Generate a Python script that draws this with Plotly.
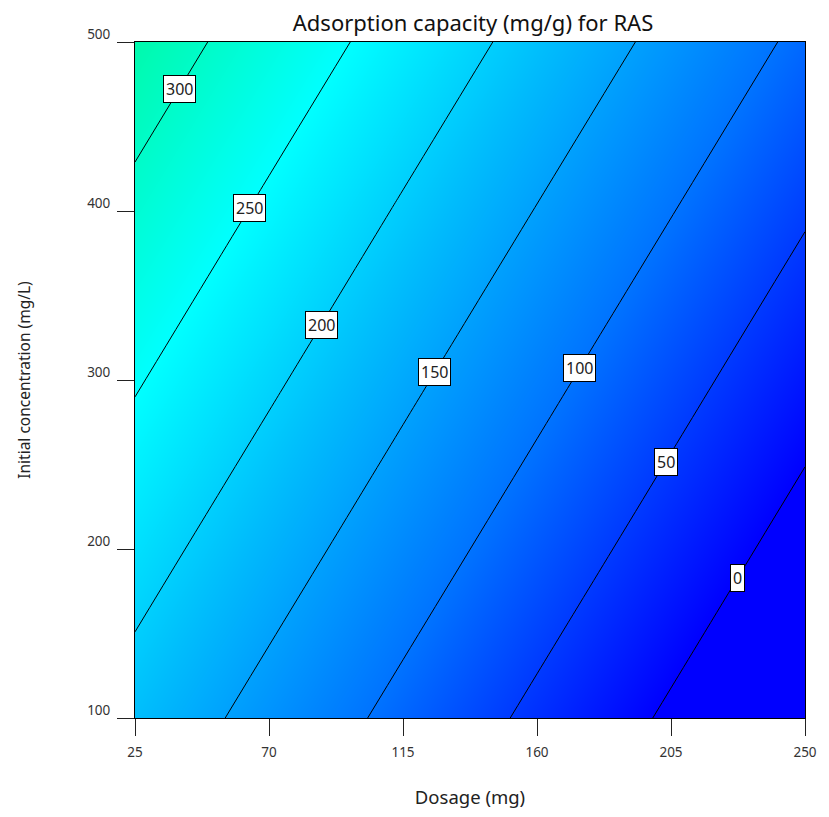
import numpy as np
import plotly.graph_objects as go

# Axes grid (tick positions)
dosage = [25, 70, 115, 160, 205, 250]          # mg
conc = [100, 200, 300, 400, 500]               # mg/L

# Adsorption capacity (mg/g) at grid nodes (rows = conc)
capacity = [
    [181.7, 134.6, 87.6, 40.6, -6.4, -53.5],
    [217.6, 170.6, 123.6, 76.6, 29.6, -17.5],
    [253.6, 206.6, 159.5, 112.5, 65.5, 18.5],
    [289.6, 242.5, 195.5, 148.5, 101.5, 54.4],
    [325.5, 278.5, 231.5, 184.5, 137.5, 90.4],
]

x_ticks = [25, 70, 115, 160, 205, 250]
y_ticks = [100, 200, 300, 400, 500]

# Contour labels: level and the concentration where its label box sits
label_levels = [0, 50, 100, 150, 200, 250, 300]
label_conc = [182.8, 251.5, 307.0, 304.7, 332.5, 401.8, 472.0]

Z = np.array(capacity)
zmin, zmax = float(Z.min()), float(Z.max())


def zpos(v):
    return (v - zmin) / (zmax - zmin)


colorscale = [
    [0.0, "rgb(0,0,255)"],
    [zpos(0), "rgb(0,0,255)"],
    [zpos(100), "rgb(0,115,255)"],
    [zpos(180), "rgb(0,188,252)"],
    [zpos(250), "rgb(0,255,255)"],
    [1.0, "rgb(0,250,172)"],
]

fig = go.Figure()
fig.add_trace(go.Contour(
    x=dosage, y=conc, z=capacity,
    zmin=zmin, zmax=zmax, zauto=False,
    colorscale=colorscale, showscale=False,
    contours=dict(start=0, end=300, size=50, coloring="heatmap", showlines=True),
    line=dict(color="black", width=1),
    hoverinfo="skip",
))

annotations = []
for lev, yc in zip(label_levels, label_conc):
    row = np.array([np.interp(yc, conc, Z[:, j]) for j in range(len(dosage))])
    xc = float(np.interp(lev, row[::-1], np.array(dosage)[::-1]))
    annotations.append(dict(
        x=xc, y=yc, xref="x", yref="y", text=str(lev), showarrow=False,
        font=dict(size=16, color="#222", family="Noto Sans"),
        bgcolor="white", bordercolor="black", borderwidth=1, borderpad=2,
    ))

fig.update_layout(
    width=829, height=817,
    margin=dict(l=135, r=18, t=42, b=99),
    paper_bgcolor="white", plot_bgcolor="white",
    font=dict(family="Noto Sans", color="#222"),
    title=dict(text="Adsorption capacity (mg/g) for RAS", x=(135 + 811) / 2 / 829,
               xanchor="center", y=1 - 23 / 817, yanchor="middle",
               font=dict(size=22, color="#111")),
    annotations=annotations,
    showlegend=False,
)
fig.update_xaxes(
    range=[25, 250], tickvals=x_ticks, ticktext=[str(v) for v in x_ticks],
    ticks="outside", ticklen=17, tickwidth=1, tickcolor="#222",
    showline=True, linecolor="black", linewidth=1, mirror=True,
    showgrid=False, zeroline=False,
    tickfont=dict(size=13.5, color="#333"), ticklabelstandoff=5,
    title=dict(text="Dosage (mg)", font=dict(size=18.5, color="#222"), standoff=30),
)
fig.update_yaxes(
    range=[100, 500], tickvals=y_ticks, ticktext=[str(v) for v in y_ticks],
    ticks="outside", ticklen=17, tickwidth=1, tickcolor="#222",
    showline=True, linecolor="black", linewidth=1, mirror=True,
    showgrid=False, zeroline=False,
    tickfont=dict(size=13.5, color="#333"), ticklabelshift=-8, ticklabelstandoff=4,
    title=dict(text="Initial concentration (mg/L)", font=dict(size=15.5, color="#222"), standoff=52),
)

fig.write_html("out.html")
